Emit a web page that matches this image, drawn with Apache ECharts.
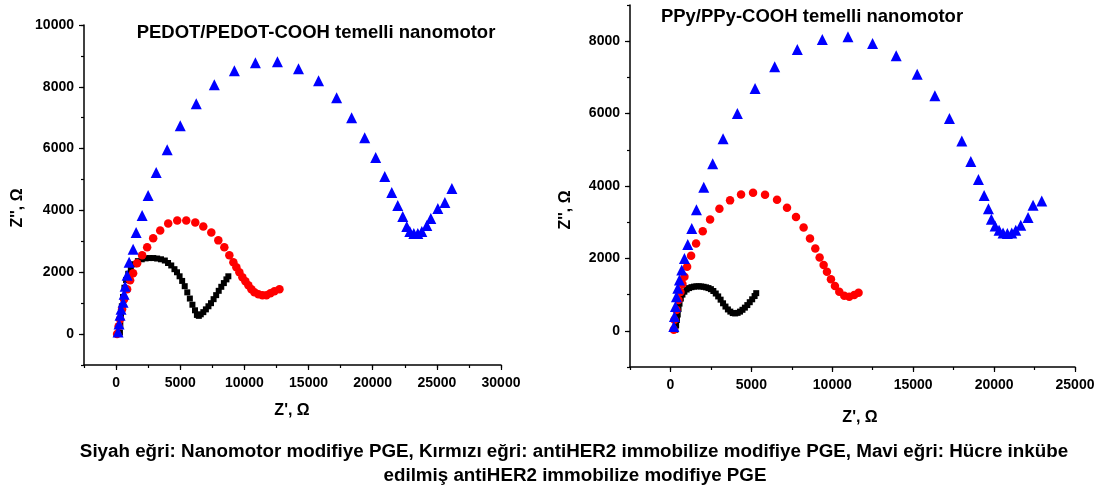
<!DOCTYPE html>
<html><head><meta charset="utf-8">
<script src="https://cdn.jsdelivr.net/npm/echarts@6/dist/echarts.min.js"></script>
<style>html,body{margin:0;padding:0;background:#fff}#c{width:1098px;height:492px}</style>
</head><body><div id="c"></div>
<script>
// Left chart: PEDOT/PEDOT-COOH  [Z', Z'']
const pedotBlack = [[300,50],[330,300],[380,600],[450,900],[540,1200],[650,1500],[780,1750],[950,1950],[1150,2120],[1400,2260],[1700,2360],[2000,2420],[2300,2450],[2600,2460],[2900,2460],[3200,2445],[3500,2420],[3800,2380],[4050,2300],[4300,2220],[4550,2100],[4750,2000],[4950,1870],[5150,1720],[5350,1550],[5550,1350],[5750,1150],[5950,950],[6150,770],[6300,620],[6450,590],[6600,640],[6800,710],[7000,800],[7200,900],[7400,1000],[7600,1130],[7800,1260],[8000,1400],[8200,1530],[8400,1650],[8600,1770],[8750,1870]];
const pedotRed = [[78,0],[200,250],[313,484],[469,806],[625,1129],[859,1452],[1094,1742],[1328,1968],[1641,2290],[2031,2548],[2422,2806],[2891,3097],[3438,3355],[4063,3581],[4766,3678],[5469,3678],[6172,3613],[6797,3484],[7422,3290],[7969,3032],[8438,2806],[8828,2548],[9141,2323],[9375,2161],[9609,2000],[9844,1839],[10078,1710],[10313,1581],[10547,1452],[10781,1355],[11094,1290],[11406,1258],[11719,1258],[12031,1323],[12344,1387],[12734,1452]];
const pedotBlue = [[156,65],[234,323],[313,613],[390,806],[547,1032],[625,1290],[703,1548],[859,1903],[1016,2323],[1328,2742],[1563,3290],[2031,3839],[2500,4484],[3125,5226],[3984,5968],[5000,6742],[6250,7452],[7656,8065],[9219,8517],[10859,8775],[12578,8807],[14219,8581],[15781,8194],[17188,7646],[18359,7000],[19375,6355],[20234,5710],[20938,5097],[21484,4581],[21953,4161],[22344,3807],[22656,3484],[22891,3323],[23203,3258],[23516,3258],[23828,3323],[24219,3516],[24531,3742],[25078,4065],[25625,4258],[26172,4710]];
// Right chart: PPy/PPy-COOH
const ppyBlack = [[300,30],[350,150],[400,300],[450,450],[500,600],[560,750],[640,890],[740,1000],[860,1080],[1000,1140],[1150,1180],[1300,1205],[1450,1220],[1600,1228],[1750,1230],[1900,1225],[2050,1215],[2200,1200],[2350,1180],[2500,1150],[2650,1100],[2800,1030],[2950,950],[3100,860],[3250,760],[3400,670],[3550,590],[3700,530],[3850,490],[4000,480],[4150,495],[4300,530],[4450,580],[4600,640],[4750,710],[4900,790],[5050,870],[5200,960],[5300,1040]];
const ppyRed = [[206,28],[247,302],[370,578],[494,853],[617,1073],[741,1293],[864,1493],[1029,1768],[1276,2071],[1584,2412],[1996,2750],[2449,3072],[3025,3374],[3683,3603],[4363,3768],[5104,3813],[5845,3758],[6586,3621],[7203,3401],[7759,3144],[8229,2851],[8624,2549],[8951,2274],[9218,2027],[9465,1815],[9671,1631],[9918,1422],[10165,1238],[10433,1081],[10741,971],[11050,943],[11358,990],[11624,1053]];
const ppyBlue = [[206,118],[247,393],[309,668],[370,943],[453,1174],[556,1403],[698,1678],[864,1999],[1070,2384],[1317,2824],[1605,3347],[2056,3968],[2611,4612],[3251,5308],[4136,6004],[5228,6691],[6441,7296],[7840,7774],[9383,8049],[10970,8122],[12490,7939],[13951,7599],[15247,7086],[16340,6490],[17242,5866],[18007,5244],[18562,4675],[19031,4180],[19383,3740],[19649,3374],[19834,3080],[20062,2896],[20309,2778],[20556,2704],[20821,2687],[21093,2704],[21340,2778],[21649,2915],[22099,3127],[22408,3465],[22945,3583]];

const leftXTicks = [0,5000,10000,15000,20000,25000,30000];
const leftYTicks = [0,2000,4000,6000,8000,10000];
const rightXTicks = [0,5000,10000,15000,20000,25000];
const rightYTicks = [0,2000,4000,6000,8000];

const titleLeft = 'PEDOT/PEDOT-COOH temelli nanomotor';
const titleRight = 'PPy/PPy-COOH temelli nanomotor';
const captionLine1 = 'Siyah eğri: Nanomotor modifiye PGE, Kırmızı eğri: antiHER2 immobilize modifiye PGE, Mavi eğri: Hücre inkübe';
const captionLine2 = 'edilmiş antiHER2 immobilize modifiye PGE';

const FONT = 'Liberation Sans, Arial, sans-serif';
const lbl = {fontFamily: FONT, fontWeight: 'bold', fontSize: 14, color: '#000', formatter: v => String(v)};
const axLine = {show: true, onZero: false, lineStyle: {color: '#000', width: 1.5}};

function mainX(grid, min, max, ticks) {
  return {gridIndex: grid, type: 'value', position: 'bottom', min, max,
    axisLine: axLine, splitLine: {show: false},
    axisTick: {show: true, inside: false, length: 5, lineStyle: {color: '#000', width: 1.2}, customValues: ticks},
    axisLabel: Object.assign({margin: 11, customValues: ticks}, lbl)};
}
function mainY(grid, min, max, ticks) {
  return {gridIndex: grid, type: 'value', position: 'left', min, max,
    axisLine: axLine, splitLine: {show: false},
    axisTick: {show: true, inside: false, length: 5, lineStyle: {color: '#000', width: 1.2}, customValues: ticks},
    axisLabel: Object.assign({margin: 10, customValues: ticks}, lbl)};
}
function minorAx(grid, min, max, interval, pos) {
  return {gridIndex: grid, type: 'value', position: pos, min, max, interval,
    axisLine: {show: false, onZero: false}, splitLine: {show: false}, axisLabel: {show: false},
    axisTick: {show: true, inside: false, length: 3, lineStyle: {color: '#000', width: 1.2}}};
}
function sc(data, xi, yi, kind) {
  const s = {type: 'scatter', data, xAxisIndex: xi, yAxisIndex: yi, silent: true, animation: false};
  if (kind === 'black') { s.symbol = 'rect'; s.symbolSize = 6; s.itemStyle = {color: '#000', opacity: 1}; }
  if (kind === 'red') { s.symbol = 'circle'; s.symbolSize = 8.5; s.itemStyle = {color: '#ff0000', opacity: 1}; }
  if (kind === 'blue') { s.symbol = 'triangle'; s.symbolSize = 11; s.itemStyle = {color: '#0000ff', opacity: 1}; }
  return s;
}
function txt(x, y, text, size, rot) {
  return {type: 'text', x, y, rotation: rot || 0,
    style: {text, fontFamily: FONT, fontWeight: 'bold', fontSize: size, fill: '#000', align: 'center', verticalAlign: 'middle'}};
}

const chart = echarts.init(document.getElementById('c'), null, {renderer: 'canvas'});
chart.setOption({
  animation: false,
  backgroundColor: '#fff',
  grid: [
    {left: 84, top: 25, width: 417, height: 340},
    {left: 630, top: 5, width: 445, height: 362}
  ],
  xAxis: [
    mainX(0, -2500, 30000, leftXTicks),
    mainX(1, -2500, 25000, rightXTicks),
    minorAx(0, -2500, 30000, 2500, 'bottom'),
    minorAx(1, -2500, 25000, 2500, 'bottom')
  ],
  yAxis: [
    mainY(0, -1000, 10000, leftYTicks),
    mainY(1, -1000, 9000, rightYTicks),
    minorAx(0, -1000, 10000, 1000, 'left'),
    minorAx(1, -1000, 9000, 1000, 'left')
  ],
  series: [
    sc(pedotBlack, 0, 0, 'black'),
    sc(pedotRed, 0, 0, 'red'),
    sc(pedotBlue, 0, 0, 'blue'),
    sc(ppyBlack, 1, 1, 'black'),
    sc(ppyRed, 1, 1, 'red'),
    sc(ppyBlue, 1, 1, 'blue')
  ],
  graphic: [
    txt(316, 33, titleLeft, 18.5),
    txt(812, 17, titleRight, 18.5),
    txt(292, 411, "Z', Ω", 16),
    txt(860, 418, "Z', Ω", 16),
    txt(18, 208, "Z'', Ω", 16, Math.PI / 2),
    txt(566, 210, "Z'', Ω", 16, Math.PI / 2),
    txt(574, 452, captionLine1, 18.8),
    txt(575, 476, captionLine2, 18.8)
  ]
});
</script></body></html>
